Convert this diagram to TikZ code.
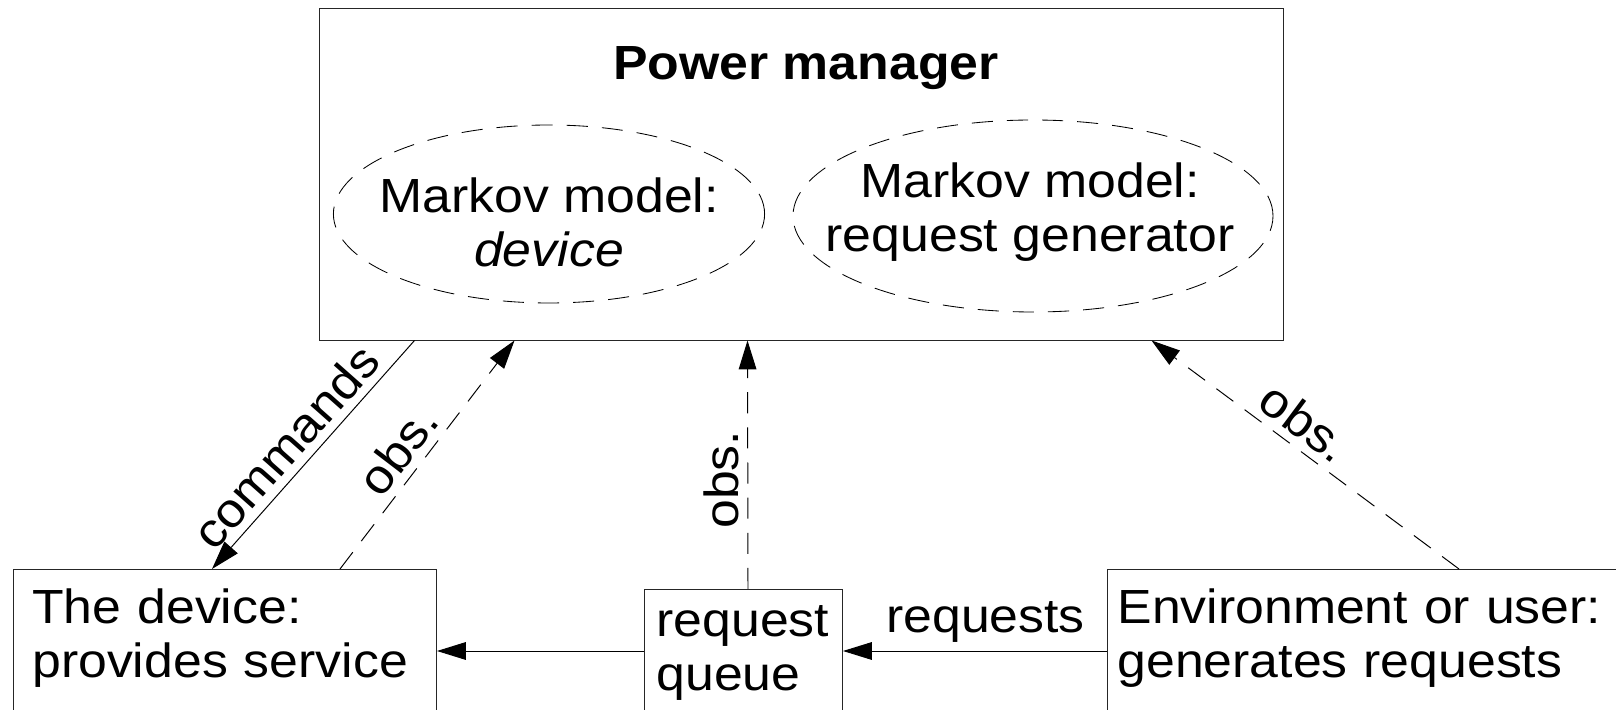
\documentclass[tikz,border=0pt]{standalone}
\usepackage{fontspec}
\setmainfont{Liberation Sans}[FakeStretch=1.08]
\usepackage{tikz}
\usetikzlibrary{arrows.meta}

\begin{document}
\begin{tikzpicture}[
  big/.style={font=\fontsize{34.1pt}{38.4pt}\selectfont},
  box/.style={draw=black!85,line width=0.7pt,anchor=north west,align=left,big,text depth=2.5cm},
  modelring/.style={draw,line width=0.6pt,dash pattern=on 15pt off 10pt},
  flow/.style={line width=0.7pt,-{Triangle[length=0.72cm,width=0.44cm]}},
  obsflow/.style={flow,dash pattern=on 15pt off 10pt},
  tag/.style={big,inner sep=0.2cm}
]
\useasboundingbox (0,0) rectangle (40.4,17.75);
\clip (0,0) rectangle (40.4,17.75);

\node[draw=black!85,line width=0.7pt,minimum width=24.1cm,minimum height=8.275cm] (pm) at (20.025,13.3875) {};
\node[big,anchor=base] (title) at (20.15,15.75) {\textbf{Power manager}};

\draw[modelring] (13.725,12.4) ellipse (5.39 and 2.225);
\draw[modelring] (25.825,12.35) ellipse (6.0 and 2.4);
\node[big,align=center,inner sep=0pt] (devmodel) at (13.725,12.19) {Markov model:\\\textit{device}};
\node[big,align=center,inner sep=0pt] (reqmodel) at (25.75,12.44) {Markov model:\\request generator};

\node[box,text width=9.635cm,inner sep=0.47cm] (dev) at (0.325,3.525) {The device:\\provides service};
\node[box,text width=4.35cm,inner xsep=0.3cm,inner ysep=0.41cm] (q) at (16.1,3.025) {request\\queue};
\node[box,text width=14cm,inner xsep=0.25cm,inner ysep=0.47cm] (env) at (27.675,3.525) {Environment or user:\\generates requests};

\coordinate (lane) at (0,1.475);
\draw[flow] (q.west |- lane) -- (dev.east |- lane);
\draw[flow] (env.west |- lane) -- node[tag,above,pos=0.46] (reqlabel) {requests} (q.east |- lane);

\draw[flow] ([xshift=2.4cm]pm.south west) -- node[tag,sloped,above,pos=0.54] (cmdlabel) {commands} ([xshift=4.975cm]dev.north west);
\draw[obsflow] ([xshift=8.175cm]dev.north west) -- node[tag,sloped,above,pos=0.45] (obsdev) {obs.} ([xshift=4.9cm]pm.south west);
\draw[obsflow] ([xshift=2.6cm]q.north west) -- node[tag,rotate=90,anchor=south,pos=0.44] (obsq) {obs.} ([xshift=10.725cm]pm.south west);
\draw[obsflow] ([xshift=8.8cm]env.north west) -- node[tag,sloped,above,pos=0.55] (obsenv) {obs.} ([xshift=20.825cm]pm.south west);
\end{tikzpicture}
\end{document}
